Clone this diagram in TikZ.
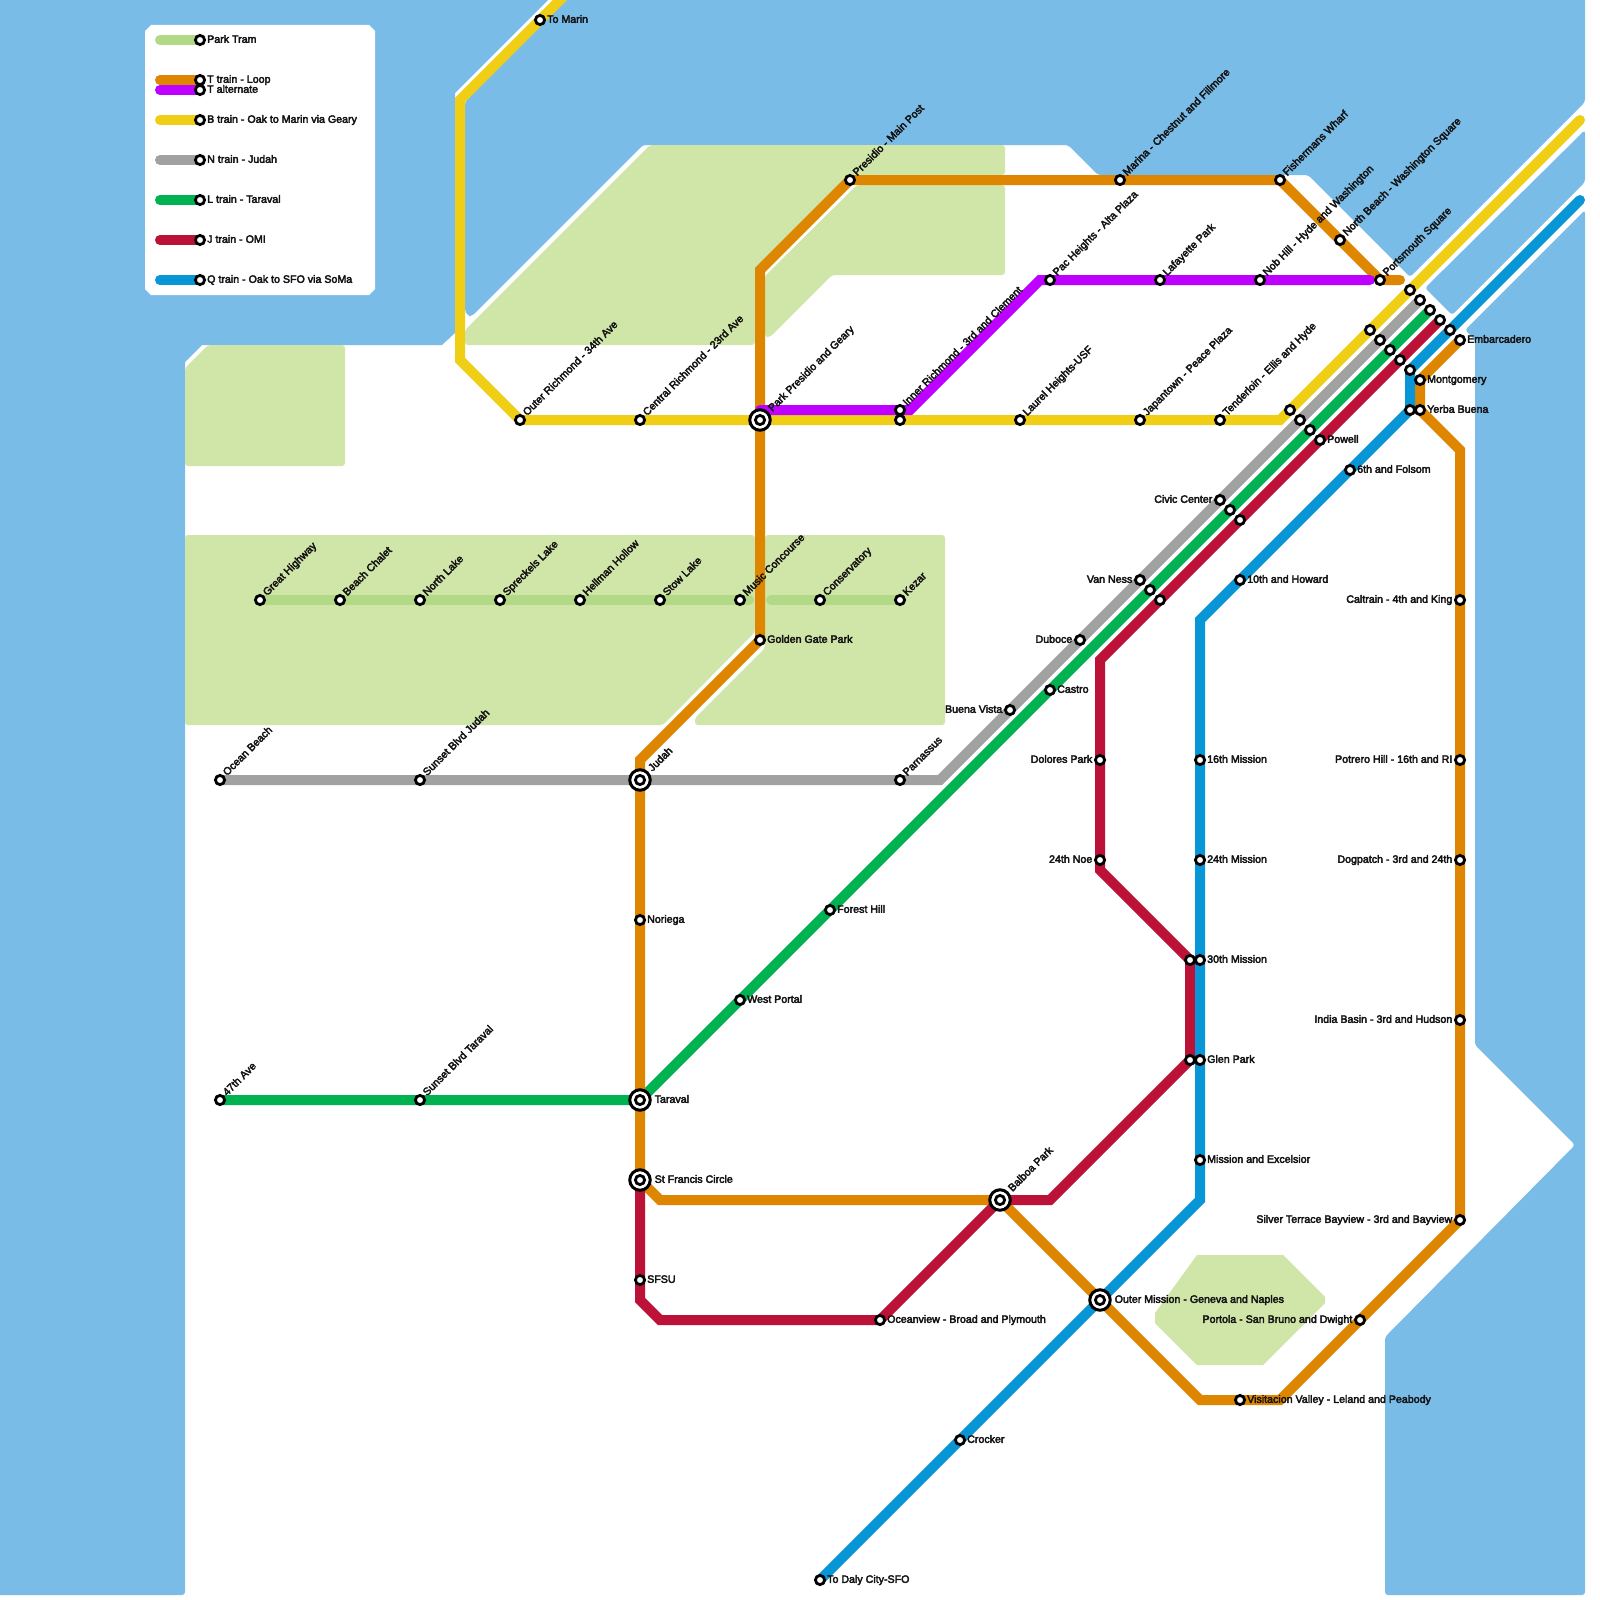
\documentclass[tikz,border=0pt]{standalone}
\usepackage{fontspec}
\newfontface\labfont[FakeBold=3.5]{Liberation Sans}
\definecolor{water}{RGB}{122,188,232}
\definecolor{park}{RGB}{208,229,168}
\definecolor{ctram}{RGB}{178,218,134}
\definecolor{corange}{RGB}{223,134,0}
\definecolor{cpurple}{RGB}{189,0,255}
\definecolor{cyellow}{RGB}{240,206,21}
\definecolor{cgray}{RGB}{161,161,161}
\definecolor{cgreen}{RGB}{0,178,81}
\definecolor{cred}{RGB}{188,18,56}
\definecolor{cblue}{RGB}{8,150,215}
\tikzset{
  wat/.style={fill=water,rounded corners=3pt},
  prk/.style={fill=park,rounded corners=3pt},
  rail/.style={line width=10pt,line cap=round,line join=miter,miter limit=10},
  stn/.style={circle,draw=black,fill=white,line width=2.8pt,minimum size=9.2pt,inner sep=0pt,outer sep=0pt},
  bigstn/.style={circle,draw=black,fill=white,line width=3pt,minimum size=20.5pt,inner sep=0pt,outer sep=0pt},
  lab/.style={inner sep=0pt,outer sep=0pt,text=black!92,font=\labfont\fontsize{10.65pt}{12pt}\selectfont},
}
\newcommand{\stN}[1]{\node[stn] (n#1) at (#1) {};}
\newcommand{\stR}[2]{\stN{#1}\node[lab,anchor=base west] (t#1) at ([xshift=7.2pt,yshift=-2.8pt]#1) {#2};}
\newcommand{\stL}[2]{\stN{#1}\node[lab,anchor=base east] (t#1) at ([xshift=-7.7pt,yshift=-2.8pt]#1) {#2};}
\newcommand{\stU}[2]{\stN{#1}\node[lab,anchor=base west,rotate=45] (t#1) at ([xshift=7.2pt,yshift=3.7pt]#1) {#2};}
\newcommand{\ixN}[1]{\node[bigstn] (b#1) at (#1) {};\stN{#1}}
\newcommand{\ixR}[2]{\ixN{#1}\node[lab,anchor=base west] (t#1) at ([xshift=14.7pt,yshift=-2.8pt]#1) {#2};}
\newcommand{\ixU}[2]{\ixN{#1}\node[lab,anchor=base west,rotate=45] (t#1) at ([xshift=12.5pt,yshift=8pt]#1) {#2};}
\begin{document}
\begin{tikzpicture}[x=1pt,y=-1pt]
\useasboundingbox (0,0) rectangle (1600,1600);
\clip (0,0) rectangle (1600,1600);
\fill[white] (0,0) rectangle (1600,1600);
% water
\path[wat,sharp corners] (0,-5) -- (548,-5) -- (548,0) -- (455,93) -- (455,333) -- (442,345) -- (202,345) -- (185,362) -- (185,1592) [rounded corners=3pt] -- (185,1595) [sharp corners] -- (0,1595) -- cycle;
\path[wat] (567,-8) -- (465,102) -- (465,311) -- (468,316) -- (472,316) -- (643,145) -- (1068,145) -- (1098,175) -- (1308,175) -- (1410,277) -- (1585,102) -- (1585,-8) -- cycle;
\path[wat] (1585,130) -- (1585,182) -- (1452,315) -- (1425,288) -- cycle;
\path[wat] (1585,210) -- (1585,1595) -- (1385,1595) -- (1385,1337) -- (1575,1145) -- (1475,1045) -- (1475,340) -- (1465,330) -- cycle;
% legend panel
\fill[white] (151,25) -- (369,25) -- (375,31) -- (375,289) -- (369,295) -- (151,295) -- (145,289) -- (145,31) -- cycle;
% parks
\path[prk] (185,368) -- (208,345) -- (345,345) -- (345,466) -- (185,466) -- cycle;
\path[prk] (465,345) -- (755,345) -- (755,268) -- (848,175) -- (1005,175) -- (1005,145) -- (650,145) -- (465,330) -- cycle;
\path[prk] (857,185) -- (1005,185) -- (1005,275) -- (832,275) -- (770,337) -- (765,337) -- (765,276) -- cycle;
\path[prk] (185,535) -- (755,535) -- (755,632) -- (663,725) -- (185,725) -- cycle;
\path[prk] (765,535) -- (945,535) -- (945,725) -- (695,725) -- (695,718) -- (765,648) -- cycle;
\path[prk,sharp corners] (1197,1255) -- (1283,1255) -- (1325,1297) -- (1325,1303) -- (1263,1365) -- (1197,1365) -- (1155,1323) -- (1155,1313) -- cycle;
% coordinates: bends and ends
\coordinate (Ta) at (1400,280); \coordinate (Tb) at (1380,280); \coordinate (Tc) at (1280,180);
\coordinate (Td) at (850,180); \coordinate (Te) at (760,270); \coordinate (Tf) at (760,640);
\coordinate (Tg) at (640,760); \coordinate (Th) at (640,1180); \coordinate (Ti) at (660,1200);
\coordinate (Tj) at (1000,1200); \coordinate (Tk) at (1100,1300); \coordinate (Tl) at (1200,1400);
\coordinate (Tm) at (1280,1400); \coordinate (Tn) at (1460,1220); \coordinate (To) at (1460,450);
\coordinate (Tp) at (1420,410); \coordinate (Tq) at (1420,380); \coordinate (Tr) at (1460,340);
\coordinate (Pa) at (760,410); \coordinate (Pb) at (910,410); \coordinate (Pc) at (1040,280); \coordinate (Pd) at (1050,280); \coordinate (Pe) at (1370,280);
\coordinate (Ba) at (570,-10); \coordinate (Bb) at (540,20); \coordinate (Bc) at (460,100); \coordinate (Bd) at (460,360);
\coordinate (Be) at (520,420); \coordinate (Bf) at (1280,420); \coordinate (Bg) at (1580,120);
\coordinate (Na) at (1420,300); \coordinate (Nb) at (940,780); \coordinate (Nc) at (220,780);
\coordinate (La) at (1430,310); \coordinate (Lb) at (640,1100); \coordinate (Lc) at (220,1100);
\coordinate (Ja) at (1440,320); \coordinate (Jb) at (1100,660); \coordinate (Jc) at (1100,870);
\coordinate (Jd) at (1190,960); \coordinate (Je) at (1190,1060); \coordinate (Jf) at (1050,1200);
\coordinate (Jg) at (1000,1200); \coordinate (Jh) at (880,1320); \coordinate (Ji) at (660,1320);
\coordinate (Jj) at (640,1300); \coordinate (Jk) at (640,1180);
\coordinate (Qa) at (1580,200); \coordinate (Qb) at (1410,370); \coordinate (Qc) at (1410,410);
\coordinate (Qd) at (1200,620); \coordinate (Qe) at (1200,1200); \coordinate (Qf) at (820,1580);
\coordinate (Ra) at (260,600); \coordinate (Rb) at (749,600); \coordinate (Rc) at (771,600); \coordinate (Rd) at (900,600);
% legend coordinates
\foreach \nm/\yy in {A/40,B/80,C/90,D/120,E/160,F/200,G/240,H/280}{
  \coordinate (K\nm) at (160,\yy); \coordinate (S\nm) at (200,\yy);
}
% lines
\draw[rail,ctram] (Ra) -- (Rb); \draw[rail,ctram] (Rc) -- (Rd);
\draw[rail,cgray] (Na) -- (Nb) -- (Nc);
\draw[rail,cgreen] (La) -- (Lb) -- (Lc);
\draw[rail,cyellow] (Ba) -- (Bb) -- (Bc) -- (Bd) -- (Be) -- (Bf) -- (Bg);
\draw[rail,corange] (Ta) -- (Tb) -- (Tc) -- (Td) -- (Te) -- (Tf) -- (Tg) -- (Th) -- (Ti) -- (Tj) -- (Tk) -- (Tl) -- (Tm) -- (Tn) -- (To) -- (Tp) -- (Tq) -- (Tr);
\draw[rail,cpurple] (Pa) -- (Pb) -- (Pc) -- (Pd) -- (Pe);
\draw[rail,cred] (Ja) -- (Jb) -- (Jc) -- (Jd) -- (Je) -- (Jf) -- (Jg) -- (Jh) -- (Ji) -- (Jj) -- (Jk);
\draw[rail,cblue] (Qa) -- (Qb) -- (Qc) -- (Qd) -- (Qe) -- (Qf);
% legend
\draw[rail,ctram] (KA) -- (SA);
\draw[rail,corange] (KB) -- (SB);
\draw[rail,cpurple] (KC) -- (SC);
\draw[rail,cyellow] (KD) -- (SD);
\draw[rail,cgray] (KE) -- (SE);
\draw[rail,cgreen] (KF) -- (SF);
\draw[rail,cred] (KG) -- (SG);
\draw[rail,cblue] (KH) -- (SH);
\stR{SA}{Park Tram}
\stR{SB}{T train - Loop}
\stR{SC}{T alternate}
\stR{SD}{B train - Oak to Marin via Geary}
\stR{SE}{N train - Judah}
\stR{SF}{L train - Taraval}
\stR{SG}{J train - OMI}
\stR{SH}{Q train - Oak to SFO via SoMa}
% station coordinates and stations
\coordinate (a1) at (520,420); \stU{a1}{Outer Richmond - 34th Ave}
\coordinate (a2) at (640,420); \stU{a2}{Central Richmond - 23rd Ave}
\coordinate (a3) at (760,420); \ixU{a3}{Park Presidio and Geary}
\coordinate (a4) at (900,410); \stU{a4}{Inner Richmond - 3rd and Clement}
\coordinate (a5) at (900,420); \stN{a5}
\coordinate (a6) at (1020,420); \stU{a6}{Laurel Heights-USF}
\coordinate (a7) at (1140,420); \stU{a7}{Japantown - Peace Plaza}
\coordinate (a8) at (1220,420); \stU{a8}{Tenderloin - Ellis and Hyde}
\stR{Bb}{To Marin}
\stU{Td}{Presidio - Main Post}
\coordinate (b1) at (1120,180); \stU{b1}{Marina - Chestnut and Fillmore}
\stU{Tc}{Fishermans Wharf}
\coordinate (b2) at (1340,240); \stU{b2}{North Beach - Washington Square}
\stU{Tb}{Portsmouth Square}
\stU{Pd}{Pac Heights - Alta Plaza}
\coordinate (b3) at (1160,280); \stU{b3}{Lafayette Park}
\coordinate (b4) at (1260,280); \stU{b4}{Nob Hill - Hyde and Washington}
% tram
\stU{Ra}{Great Highway}
\coordinate (c1) at (340,600); \stU{c1}{Beach Chalet}
\coordinate (c2) at (420,600); \stU{c2}{North Lake}
\coordinate (c3) at (500,600); \stU{c3}{Spreckels Lake}
\coordinate (c4) at (580,600); \stU{c4}{Hellman Hollow}
\coordinate (c5) at (660,600); \stU{c5}{Stow Lake}
\coordinate (c6) at (740,600); \stU{c6}{Music Concourse}
\coordinate (c7) at (820,600); \stU{c7}{Conservatory}
\stU{Rd}{Kezar}
\stR{Tf}{Golden Gate Park}
% N
\stU{Nc}{Ocean Beach}
\coordinate (d1) at (420,780); \stU{d1}{Sunset Blvd Judah}
\coordinate (d2) at (640,780); \ixU{d2}{Judah}
\coordinate (d3) at (900,780); \stU{d3}{Parnassus}
\coordinate (d4) at (1010,710); \stL{d4}{Buena Vista}
\coordinate (d5) at (1080,640); \stL{d5}{Duboce}
\coordinate (d6) at (1140,580); \stL{d6}{Van Ness}
\coordinate (d7) at (1220,500); \stL{d7}{Civic Center}
\coordinate (d8) at (1300,420); \stN{d8}
\coordinate (d9) at (1380,340); \stN{d9}
\stN{Na}
% L
\stU{Lc}{47th Ave}
\coordinate (e1) at (420,1100); \stU{e1}{Sunset Blvd Taraval}
\ixR{Lb}{Taraval}
\coordinate (e2) at (740,1000); \stR{e2}{West Portal}
\coordinate (e3) at (830,910); \stR{e3}{Forest Hill}
\coordinate (e4) at (1050,690); \stR{e4}{Castro}
\coordinate (e5) at (1150,590); \stN{e5}
\coordinate (e6) at (1230,510); \stN{e6}
\coordinate (e7) at (1310,430); \stN{e7}
\coordinate (e8) at (1390,350); \stN{e8}
\stN{La}
% J
\coordinate (f1) at (1160,600); \stN{f1}
\coordinate (f2) at (1240,520); \stN{f2}
\coordinate (f3) at (1320,440); \stR{f3}{Powell}
\coordinate (f4) at (1400,360); \stN{f4}
\stN{Ja}
\coordinate (f5) at (1100,760); \stL{f5}{Dolores Park}
\coordinate (f6) at (1100,860); \stL{f6}{24th Noe}
\stN{Jd}
\stN{Je}
\ixU{Jg}{Balboa Park}
\stR{Jh}{Oceanview - Broad and Plymouth}
\coordinate (f7) at (640,1280); \stR{f7}{SFSU}
\ixR{Jk}{St Francis Circle}
% T
\coordinate (g1) at (640,920); \stR{g1}{Noriega}
\ixR{Tk}{Outer Mission - Geneva and Naples}
\coordinate (g2) at (1240,1400); \stR{g2}{Visitacion Valley - Leland and Peabody}
\coordinate (g3) at (1360,1320); \stL{g3}{Portola - San Bruno and Dwight}
\stL{Tn}{Silver Terrace Bayview - 3rd and Bayview}
\coordinate (g4) at (1460,1020); \stL{g4}{India Basin - 3rd and Hudson}
\coordinate (g5) at (1460,860); \stL{g5}{Dogpatch - 3rd and 24th}
\coordinate (g6) at (1460,760); \stL{g6}{Potrero Hill - 16th and RI}
\coordinate (g7) at (1460,600); \stL{g7}{Caltrain - 4th and King}
\stR{Tp}{Yerba Buena}
\stR{Tq}{Montgomery}
\stR{Tr}{Embarcadero}
% Y
\coordinate (h1) at (1290,410); \stN{h1}
\coordinate (h2) at (1370,330); \stN{h2}
\coordinate (h3) at (1410,290); \stN{h3}
% Q
\coordinate (i1) at (1450,330); \stN{i1}
\stN{Qb}
\stN{Qc}
\coordinate (i2) at (1350,470); \stR{i2}{6th and Folsom}
\coordinate (i3) at (1240,580); \stR{i3}{10th and Howard}
\coordinate (i4) at (1200,760); \stR{i4}{16th Mission}
\coordinate (i5) at (1200,860); \stR{i5}{24th Mission}
\coordinate (i6) at (1200,960); \stR{i6}{30th Mission}
\coordinate (i7) at (1200,1060); \stR{i7}{Glen Park}
\coordinate (i8) at (1200,1160); \stR{i8}{Mission and Excelsior}
\coordinate (i9) at (960,1440); \stR{i9}{Crocker}
\stR{Qf}{To Daly City-SFO}
\end{tikzpicture}
\end{document}
